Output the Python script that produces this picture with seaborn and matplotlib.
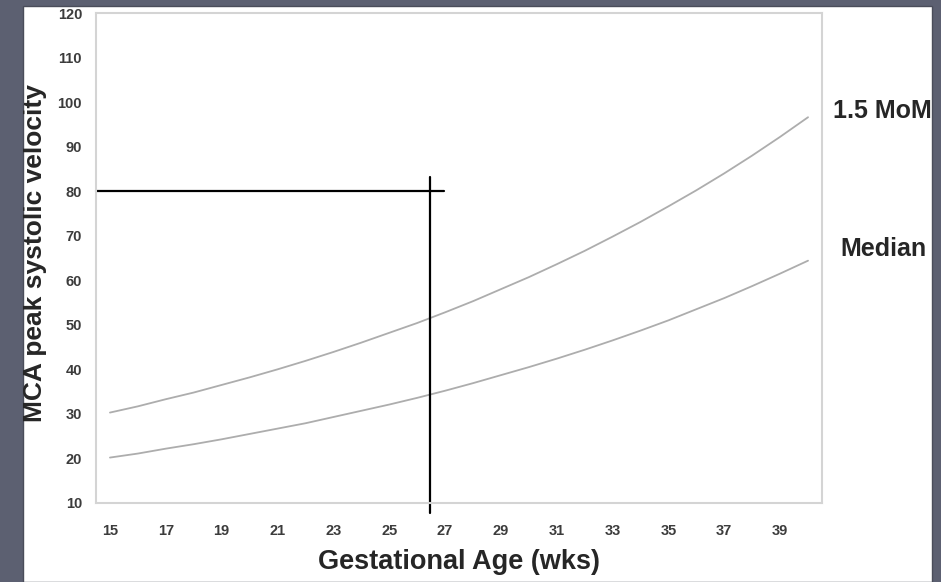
import matplotlib

matplotlib.use("Agg")
import matplotlib.pyplot as plt
import numpy as np
import pandas as pd
import seaborn as sns
from matplotlib.patches import Rectangle

# gestational age (weeks) and MCA peak systolic velocity (cm/s)
weeks = list(range(15, 41))
median = [20.2, 21.1, 22.2, 23.2, 24.3, 25.5, 26.7, 27.9, 29.3, 30.7, 32.1, 33.6, 35.2,
          36.9, 38.7, 40.5, 42.4, 44.4, 46.5, 48.7, 51.0, 53.5, 56.0, 58.7, 61.5, 64.4]
mom_15 = [30.3, 31.7, 33.3, 34.8, 36.5, 38.2, 40.0, 41.9, 43.9, 46.0, 48.2, 50.4, 52.8,
          55.3, 58.0, 60.7, 63.6, 66.6, 69.8, 73.1, 76.6, 80.2, 84.0, 88.0, 92.2, 96.6]
x_labels = list(range(15, 40, 2))
y_ticks = list(range(10, 121, 10))

# reading off the chart: 80 cm/s at about 26.5 weeks
marker_age = 26.46
marker_psv = 80

df = pd.concat([
    pd.DataFrame({"week": weeks, "psv": median, "curve": "Median"}),
    pd.DataFrame({"week": weeks, "psv": mom_15, "curve": "1.5 MoM"}),
])

sns.set_style("white")
plt.rcParams["font.family"] = ["Liberation Sans", "DejaVu Sans"]

fig = plt.figure(figsize=(9.41, 5.82), dpi=100)
fig.patch.set_facecolor("#5c6071")
panel = Rectangle((23 / 941, 0), 909 / 941, 576 / 582, transform=fig.transFigure,
                  facecolor="white", edgecolor="#4a4d5a", linewidth=1, zorder=-1)
fig.patches.append(panel)

ax = fig.add_axes([96 / 941, 1 - 503 / 582, 726 / 941, 490 / 582])
ax.set_facecolor("white")
sns.lineplot(data=df, x="week", y="psv", units="curve", estimator=None, color="#adadad",
             linewidth=1.3, ax=ax, legend=False)

ax.set_xlim(weeks[0] - 0.5, weeks[-1] + 0.5)
ax.set_ylim(y_ticks[0], y_ticks[-1])
ax.set_xticks(x_labels)
ax.set_xticks(np.arange(weeks[0] - 0.5, weeks[-1] + 1), minor=True)
ax.set_yticks(y_ticks)
ax.tick_params(axis="x", which="major", length=0, pad=15, labelsize=10.5, labelcolor="#3c3c3c")
ax.tick_params(axis="x", which="minor", length=5, width=1, color="#cccccc", direction="out")
ax.tick_params(axis="y", length=6, width=1, color="#cccccc", direction="out", pad=4,
               labelsize=10.5, labelcolor="#3c3c3c")
for lab in ax.get_xticklabels() + ax.get_yticklabels():
    lab.set_fontweight("bold")
for s in ax.spines.values():
    s.set_visible(True)
    s.set_color("#d4d4d4")
    s.set_linewidth(1.5)

ax.set_xlabel("Gestational Age (wks)", fontsize=19.5, fontweight="bold", labelpad=8)
ax.set_ylabel("")
ylab = fig.text(35 / 941, 1 - 253 / 582, "MCA peak systolic velocity", rotation=90,
                ha="center", va="center", fontsize=19, fontweight="bold")
ylab.set_clip_path(panel)

# crosshair
ax.plot([weeks[0] - 0.5, 26.96], [marker_psv, marker_psv], color="black", linewidth=1.6,
        clip_on=False)
ax.plot([marker_age, marker_age], [7.8, 83.2], color="black", linewidth=1.6, clip_on=False)

for label, x, y in [("1.5 MoM", 833, 111), ("Median", 840, 249)]:
    t = fig.text(x / 941, 1 - y / 582, label, ha="left", va="center", fontsize=18,
                 fontweight="bold")
    t.set_clip_path(panel)

fig.savefig("out.png", dpi=100)
plt.close(fig)
